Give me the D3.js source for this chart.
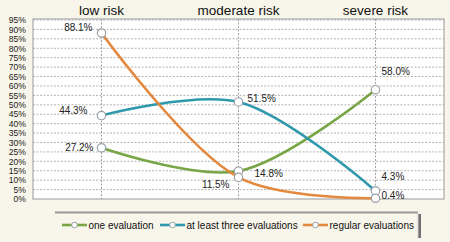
<!DOCTYPE html>
<html>
<head>
<meta charset="utf-8">
<script src="https://cdn.jsdelivr.net/npm/d3@7"></script>
<style>
  body { margin: 0; background: #f8f5ea; }
  svg { display: block; font-family: "Liberation Sans", Arial, sans-serif; }
</style>
</head>
<body>
<svg id="chart" width="450" height="242"></svg>
<script>
var categories = ["low risk", "moderate risk", "severe risk"]
var seriesNames = ["one evaluation", "at least three evaluations", "regular evaluations"]
var oneEval = [27.2, 14.8, 58.0]
var threeEval = [44.3, 51.5, 4.3]
var regularEval = [88.1, 11.5, 0.4]
var yTicks = [0,5,10,15,20,25,30,35,40,45,50,55,60,65,70,75,80,85,90,95]

var colors = ["#78a646", "#2e98ac", "#e3883c"]
// label offsets per point [dx, dy, anchor]
var labelPos = [
  [[-8, 0, "end"], [16, 2, "start"], [6, -18, "start"]],
  [[-14, -5, "end"], [9, -3, "start"], [6, -14, "start"]],
  [[-9, -6, "end"], [-9, 7, "end"], [6, -3, "start"]]
]

var margin = { top: 20, right: 6, bottom: 43, left: 33 }
var width = 450 - margin.left - margin.right
var height = 242 - margin.top - margin.bottom

var svg = d3.select("#chart")

var x = d3.scaleBand().domain(categories).range([0, width])
var y = d3.scaleLinear().domain([0, 95]).range([height, 0])
var cx = function(c){ return x(c) + x.bandwidth() / 2 }

var g = svg.append("g")
    .attr("transform", "translate(" + margin.left + "," + margin.top + ")")

g.append("rect")
    .attr("x", 0).attr("y", -1)
    .attr("width", width).attr("height", height + 1)
    .attr("fill", "#ffffff")

// horizontal grid
g.selectAll(".hgrid")
    .data(yTicks.slice(1))
  .enter().append("line")
    .attr("x1", 0).attr("x2", width)
    .attr("y1", function(d){ return y(d) }).attr("y2", function(d){ return y(d) })
    .attr("stroke", "#a0a0a0").attr("stroke-dasharray", "2,1.5").attr("stroke-width", 0.8)

// vertical grid at categories
g.selectAll(".vgrid")
    .data(categories)
  .enter().append("line")
    .attr("x1", cx).attr("x2", cx)
    .attr("y1", -1).attr("y2", height)
    .attr("stroke", "#8a8a8a").attr("stroke-dasharray", "2,1.5").attr("stroke-width", 0.8)

g.append("rect")
    .attr("x", 0).attr("y", -1)
    .attr("width", width).attr("height", height + 1)
    .attr("fill", "none").attr("stroke", "#a8a8a8").attr("stroke-width", 1.2)

// y axis labels
var yAxis = d3.axisLeft(y).tickValues(yTicks).tickSize(0).tickPadding(7)
    .tickFormat(function(d){ return d + "%" })
var ya = g.append("g").call(yAxis)
ya.select(".domain").remove()
ya.selectAll("text").attr("font-size", 8.6).attr("fill", "#222")
    .attr("font-family", "Liberation Sans, Arial, sans-serif")

// category headers
svg.selectAll(".cat")
    .data(categories)
  .enter().append("text")
    .attr("x", function(d){ return margin.left + cx(d) })
    .attr("y", 15)
    .attr("text-anchor", "middle")
    .attr("font-size", 13.5)
    .attr("fill", "#111")
    .text(function(d){ return d })

var series = [oneEval, threeEval, regularEval]
var line = d3.line()
    .x(function(d, i){ return cx(categories[i]) })
    .y(function(d){ return y(d) })
    .curve(d3.curveCatmullRom.alpha(0.5))

series.forEach(function(vals, s){
  g.append("path")
      .attr("d", line(vals))
      .attr("fill", "none")
      .attr("stroke", colors[s])
      .attr("stroke-width", 2.6)
})

series.forEach(function(vals, s){
  g.selectAll(".pt" + s)
      .data(vals)
    .enter().append("circle")
      .attr("cx", function(d, i){ return cx(categories[i]) })
      .attr("cy", function(d){ return y(d) })
      .attr("r", 4.2)
      .attr("fill", "#ffffff")
      .attr("stroke", "#9aa2a8")
      .attr("stroke-width", 1.2)
  g.selectAll(".lbl" + s)
      .data(vals)
    .enter().append("text")
      .attr("x", function(d, i){ return cx(categories[i]) + labelPos[s][i][0] })
      .attr("y", function(d, i){ return y(d) + labelPos[s][i][1] + 3.5 })
      .attr("text-anchor", function(d, i){ return labelPos[s][i][2] })
      .attr("font-size", 10)
      .attr("fill", "#222")
      .text(function(d){ return d.toFixed(1) + "%" })
})

// legend
var lg = svg.append("g")
lg.append("rect")
    .attr("x", 57).attr("y", 214).attr("width", 364).attr("height", 24)
    .attr("fill", "#6f6f6f")
lg.append("rect")
    .attr("x", 55).attr("y", 212.5).attr("width", 363).attr("height", 30)
    .attr("fill", "#f8f5ea")
lg.append("line")
    .attr("x1", 55).attr("x2", 418).attr("y1", 212.5).attr("y2", 212.5)
    .attr("stroke", "#9a9a9a").attr("stroke-width", 2)
lg.append("line")
    .attr("x1", 418).attr("x2", 418).attr("y1", 212.5).attr("y2", 238)
    .attr("stroke", "#d0d0d0").attr("stroke-width", 1)
var legendX = [62, 160, 303]
seriesNames.forEach(function(name, s){
  var lx = legendX[s]
  lg.append("line")
      .attr("x1", lx).attr("x2", lx + 25).attr("y1", 225).attr("y2", 225)
      .attr("stroke", colors[s]).attr("stroke-width", 2.6)
  lg.append("circle")
      .attr("cx", lx + 12.5).attr("cy", 225).attr("r", 2.8)
      .attr("fill", "#fff").attr("stroke", "#9aa2a8").attr("stroke-width", 1)
  lg.append("text")
      .attr("x", lx + 26.5).attr("y", 228.5)
      .attr("font-size", 10)
      .attr("fill", "#111")
      .text(name)
})
</script>
</body>
</html>
